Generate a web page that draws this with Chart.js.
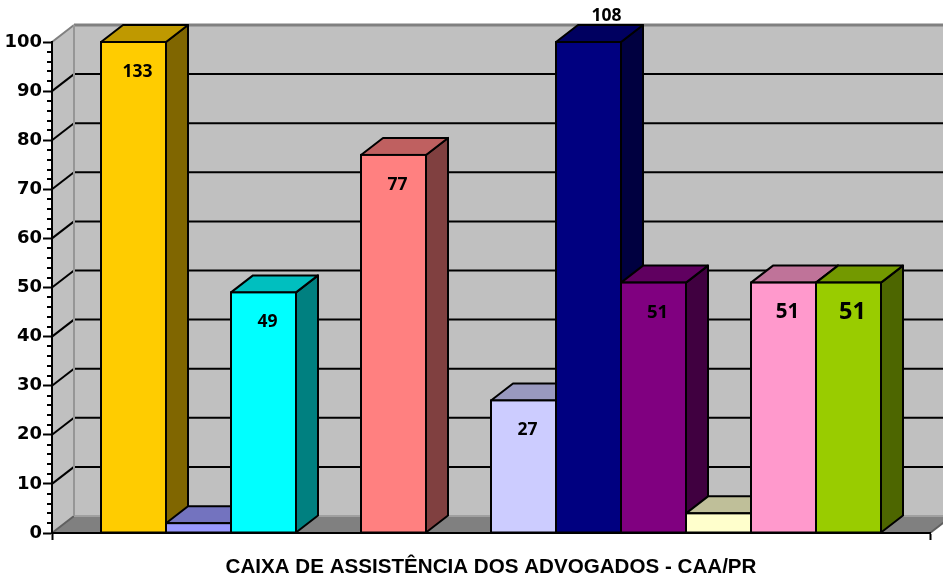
<!DOCTYPE html>
<html>
<head>
<meta charset="utf-8">
<title>CAA/PR</title>
<script src="https://cdn.jsdelivr.net/npm/chart.js@4.4.1/dist/chart.umd.min.js"></script>
<style>
    html, body { margin: 0; padding: 0; background: #fff; }
    #chart { display: block; }
</style>
</head>
<body>
<canvas id="chart" width="943" height="579"></canvas>
<script>
// Chart data
const categories = ['CAIXA DE ASSISTÊNCIA DOS ADVOGADOS - CAA/PR'];
const seriesNames = ['Série 1', 'Série 2', 'Série 3', 'Série 4', 'Série 5', 'Série 6',
    'Série 7', 'Série 8', 'Série 9', 'Série 10', 'Série 11', 'Série 12'];
const seriesValues = [133, 2, 49, null, 77, null, 27, 108, 51, 4, 51, 51];
const yTicks = [0, 10, 20, 30, 40, 50, 60, 70, 80, 90, 100];

// Front face colours, one per series
const barColors = ['#FFCC00', '#9999FF', '#00FFFF', '#808080', '#FF8080', '#808080',
    '#CCCCFF', '#000080', '#800080', '#FFFFCC', '#FF99CC', '#99CC00'];

// 3D depth of walls and bars
const DX = 22;
const DY = -17;

function shade(hex, f) {
    const n = parseInt(hex.slice(1), 16);
    const r = Math.round(((n >> 16) & 255) * f);
    const g = Math.round(((n >> 8) & 255) * f);
    const b = Math.round((n & 255) * f);
    return `rgb(${r},${g},${b})`;
}

function poly(ctx, pts, fill, stroke, width) {
    ctx.beginPath();
    ctx.moveTo(pts[0][0], pts[0][1]);
    for (let i = 1; i < pts.length; i++) ctx.lineTo(pts[i][0], pts[i][1]);
    ctx.closePath();
    if (fill) { ctx.fillStyle = fill; ctx.fill(); }
    if (stroke) { ctx.strokeStyle = stroke; ctx.lineWidth = width || 2; ctx.stroke(); }
}

function line(ctx, x1, y1, x2, y2, color, width) {
    ctx.beginPath();
    ctx.moveTo(x1, y1);
    ctx.lineTo(x2, y2);
    ctx.strokeStyle = color;
    ctx.lineWidth = width;
    ctx.stroke();
}

// Geometry of one bar, taken from the element Chart.js laid out
function barBox(chart, i) {
    const el = chart.getDatasetMeta(i).data[0];
    if (!el || seriesValues[i] === null) return null;
    const area = chart.chartArea;
    return {
        L: el.x - el.width / 2,
        R: el.x + el.width / 2,
        T: Math.max(el.y, area.top),
        B: el.base,
        cx: el.x
    };
}

// Label tweaks per series index
const labelStyle = {
    7: { above: true },
    8: { size: 18.5 },
    10: { size: 20.5 },
    11: { size: 23.5 }
};

const box3d = {
    id: 'box3d',
    beforeDraw(chart) {
        const ctx = chart.ctx;
        const a = chart.chartArea;
        const y = chart.scales.y;
        ctx.save();
        // back wall, left wall, floor
        poly(ctx, [[a.left + DX, a.top + DY], [a.right + DX, a.top + DY],
            [a.right + DX, a.bottom + DY], [a.left + DX, a.bottom + DY]], '#C0C0C0');
        poly(ctx, [[a.left, a.top], [a.left + DX, a.top + DY],
            [a.left + DX, a.bottom + DY], [a.left, a.bottom]], '#C0C0C0');
        poly(ctx, [[a.left, a.bottom], [a.left + DX, a.bottom + DY],
            [a.right + DX, a.bottom + DY], [a.right, a.bottom]], '#808080');
        // gridlines on the back wall and the left wall
        yTicks.forEach(v => {
            const py = y.getPixelForValue(v);
            if (v === 0) {
                line(ctx, a.left, py, a.left + DX, py + DY, '#606060', 2);
                line(ctx, a.left + DX, py + DY, a.right + DX, py + DY, '#A0A0A0', 2);
            } else if (v === 100) {
                line(ctx, a.left, py, a.left + DX, py + DY, '#808080', 2);
                line(ctx, a.left + DX, py + DY, a.right + DX, py + DY, '#808080', 3);
            } else {
                line(ctx, a.left, py, a.left + DX, py + DY, '#000', 2);
                line(ctx, a.left + DX, py + DY, a.right + DX, py + DY, '#000', 2);
            }
        });
        line(ctx, a.left + DX, a.top + DY, a.left + DX, a.bottom + DY, '#969696', 2);
        line(ctx, a.right, a.bottom, a.right + DX, a.bottom + DY, '#606060', 2);
        ctx.restore();
    },
    beforeDatasetsDraw(chart) {
        // top and side faces, left to right
        const ctx = chart.ctx;
        ctx.save();
        ctx.lineJoin = 'round';
        seriesValues.forEach((v, i) => {
            const b = barBox(chart, i);
            if (!b) return;
            poly(ctx, [[b.R, b.T], [b.R + DX, b.T + DY], [b.R + DX, b.B + DY], [b.R, b.B]],
                shade(barColors[i], 0.5), '#000', 2);
            poly(ctx, [[b.L, b.T], [b.L + DX, b.T + DY], [b.R + DX, b.T + DY], [b.R, b.T]],
                shade(barColors[i], 0.75), '#000', 2);
        });
        ctx.restore();
    },
    afterDatasetsDraw(chart) {
        const ctx = chart.ctx;
        ctx.save();
        // front outlines
        seriesValues.forEach((v, i) => {
            const b = barBox(chart, i);
            if (!b) return;
            ctx.strokeStyle = '#000';
            ctx.lineWidth = 2;
            ctx.strokeRect(b.L, b.T, b.R - b.L, b.B - b.T);
        });
        // value labels
        ctx.fillStyle = '#000';
        ctx.textAlign = 'center';
        ctx.textBaseline = 'middle';
        seriesValues.forEach((v, i) => {
            const b = barBox(chart, i);
            if (!b || v < 10) return;
            const st = labelStyle[i] || {};
            ctx.font = `bold ${st.size || 17.5}px "Open Sans"`;
            if (st.above) {
                ctx.fillText(String(v), b.cx + 18, b.T + DY - 9);
            } else {
                ctx.fillText(String(v), b.cx + 4, b.T + 30);
            }
        });
        ctx.restore();
    },
    afterDraw(chart) {
        // minor ticks on the value axis
        const ctx = chart.ctx;
        const a = chart.chartArea;
        const y = chart.scales.y;
        ctx.save();
        for (let v = 2; v < 100; v += 2) {
            if (v % 10 === 0) continue;
            const py = Math.round(y.getPixelForValue(v));
            line(ctx, a.left - 5, py, a.left, py, '#000', 2);
        }
        ctx.restore();
    }
};

const datasets = seriesValues.map((v, i) => ({
    label: seriesNames[i],
    data: [v],
    backgroundColor: barColors[i],
    borderWidth: 0
}));

new Chart(document.getElementById('chart'), {
    type: 'bar',
    data: { labels: categories, datasets: datasets },
    options: {
        responsive: false,
        animation: false,
        devicePixelRatio: 1,
        categoryPercentage: 780 / 878,
        barPercentage: 1,
        layout: { padding: { top: 42, right: 13, left: 0, bottom: 0 } },
        plugins: {
            legend: { display: false },
            tooltip: { enabled: false }
        },
        scales: {
            x: {
                grid: { offset: true, drawOnChartArea: false, tickLength: 7, tickColor: '#000', tickWidth: 2 },
                border: { color: '#000', width: 2 },
                ticks: {
                    color: '#000',
                    maxRotation: 0,
                    autoSkip: false,
                    padding: 15,
                    font: { family: '"Liberation Sans", Arial', weight: 'bold', size: 20.6 }
                },
                afterFit(s) { s.height = 46; }
            },
            y: {
                min: 0,
                max: 100,
                grid: { drawOnChartArea: false, tickLength: 9, tickColor: '#000', tickWidth: 2 },
                border: { color: '#000', width: 2 },
                ticks: {
                    stepSize: 10,
                    color: '#000',
                    padding: 1,
                    font: { family: '"DejaVu Sans"', weight: 'bold', size: 18 }
                },
                afterFit(s) { s.width = 52; }
            }
        }
    },
    plugins: [box3d]
});
</script>
</body>
</html>
